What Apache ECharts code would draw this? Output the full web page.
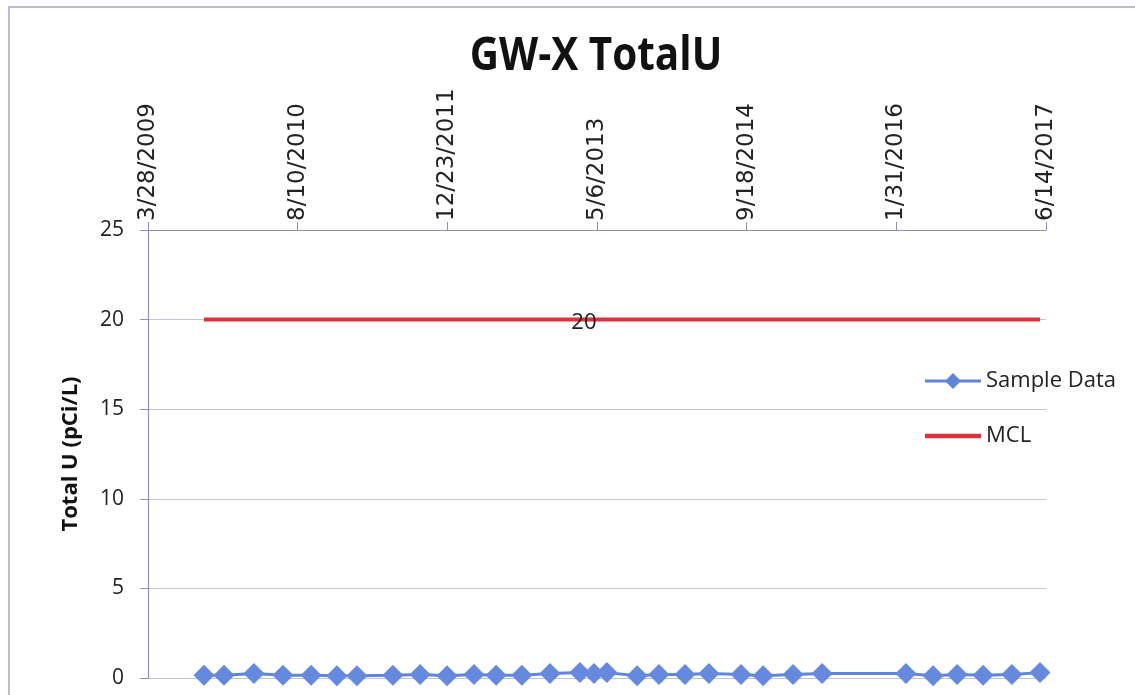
<!DOCTYPE html>
<html>
<head>
<meta charset="utf-8">
<title>GW-X TotalU</title>
<script src="https://cdn.jsdelivr.net/npm/echarts@6/dist/echarts.min.js"></script>
<style>
  html, body { margin: 0; padding: 0; background: #ffffff; }
  #chart { width: 1135px; height: 695px; }
</style>
</head>
<body>
<div id="chart"></div>
<script>
// Sampling dates (M/D/YYYY) and measured total uranium, pCi/L
const sampleDates = [
  '10/1/2009', '12/7/2009', '3/17/2010', '6/22/2010', '9/24/2010', '12/19/2010',
  '2/24/2011', '6/24/2011', '9/23/2011', '12/22/2011', '3/21/2012', '6/3/2012',
  '8/28/2012', '11/30/2012', '3/10/2013', '4/26/2013', '6/8/2013', '9/17/2013',
  '11/29/2013', '2/24/2014', '5/15/2014', '8/30/2014', '11/12/2014', '2/20/2015',
  '5/28/2015', '3/3/2016', '6/2/2016', '8/21/2016', '11/16/2016', '2/20/2017',
  '5/25/2017'
];
const sampleValues = [
  0.15, 0.15, 0.25, 0.15, 0.15, 0.12,
  0.12, 0.15, 0.2, 0.12, 0.2, 0.15,
  0.15, 0.25, 0.3, 0.25, 0.3, 0.12,
  0.2, 0.2, 0.25, 0.2, 0.12, 0.2,
  0.25, 0.25, 0.12, 0.2, 0.15, 0.2,
  0.3
];
// Maximum contaminant level at each sampling date
const mclValues = [
  20, 20, 20, 20, 20, 20, 20, 20, 20, 20, 20, 20, 20, 20, 20, 20,
  20, 20, 20, 20, 20, 20, 20, 20, 20, 20, 20, 20, 20, 20, 20
];
const mclLabelIndex = 14;
// Date axis labels
const xTickLabels = ['3/28/2009', '8/10/2010', '12/23/2011', '5/6/2013', '9/18/2014', '1/31/2016', '6/14/2017'];
const yTicks = { min: 0, max: 25, interval: 5 };

const blue = '#5f85db';
const red = '#d8333f';

function parseDate(s) {
  const [m, d, y] = s.split('/').map(Number);
  return Date.UTC(y, m - 1, d);
}
function formatDate(t) {
  const dt = new Date(t);
  return (dt.getUTCMonth() + 1) + '/' + dt.getUTCDate() + '/' + dt.getUTCFullYear();
}

const xTickValues = xTickLabels.map(parseDate);
const sampleSeries = sampleDates.map((d, i) => [parseDate(d), sampleValues[i]]);
const mclSeries = sampleDates.map((d, i) => [parseDate(d), mclValues[i]]);

const chart = echarts.init(document.getElementById('chart'), null, { renderer: 'canvas' });
chart.setOption({
  animation: false,
  backgroundColor: '#ffffff',
  graphic: [
    {
      type: 'rect', silent: true, z: -1,
      shape: { x: 9, y: 7, width: 1140, height: 700 },
      style: { fill: 'none', stroke: '#a9a9c4', lineWidth: 1.5 }
    },
    {
      type: 'text', silent: true,
      x: 596, y: 57, scaleX: 0.88,
      style: {
        text: 'GW-X TotalU',
        font: 'bold 46px "Open Sans", sans-serif',
        fill: '#111', align: 'center', verticalAlign: 'middle'
      }
    }
  ],
  legend: {
    orient: 'vertical',
    left: 925, top: 370, padding: 0,
    itemWidth: 56, itemHeight: 18, itemGap: 33,
    textStyle: { fontFamily: 'Open Sans, sans-serif', fontSize: 22, color: '#222' },
    data: [
      {
        name: 'Sample Data',
        icon: 'path://M0,6.5 L56,6.5 L56,9.5 L0,9.5 Z M28,0 L36,8 L28,16 L20,8 Z',
        itemStyle: { color: blue, opacity: 1 }
      },
      {
        name: 'MCL',
        icon: 'path://M0,0 L56,0 L56,4.5 L0,4.5 Z',
        itemStyle: { color: red, opacity: 1 }
      }
    ]
  },
  grid: { left: 148, top: 230, right: 89, bottom: 17, containLabel: false },
  xAxis: {
    type: 'value',
    position: 'top',
    min: xTickValues[0],
    max: xTickValues[xTickValues.length - 1],
    axisLine: { show: true, onZero: false, lineStyle: { color: '#9090ac', width: 1.2 } },
    axisTick: { show: true, inside: false, length: 8, customValues: xTickValues, lineStyle: { color: '#9090ac' } },
    axisLabel: {
      show: true, rotate: -90, margin: 9,
      customValues: xTickValues,
      formatter: v => formatDate(v),
      fontFamily: 'DejaVu Sans, sans-serif', fontSize: 23, color: '#222'
    },
    splitLine: { show: false }
  },
  yAxis: {
    type: 'value',
    min: yTicks.min, max: yTicks.max, interval: yTicks.interval,
    name: 'Total U (pCi/L)',
    nameLocation: 'middle', nameGap: 66, nameRotate: 90,
    nameTextStyle: { fontFamily: 'Open Sans, sans-serif', fontWeight: 'bold', fontSize: 22, color: '#111' },
    axisLine: { show: true, lineStyle: { color: '#9090ac', width: 1.2 } },
    axisTick: { show: true, inside: false, length: 8, lineStyle: { color: '#9090ac' } },
    axisLabel: { margin: 24, fontFamily: 'Open Sans, sans-serif', fontSize: 21, color: '#222' },
    splitLine: { show: true, lineStyle: { color: '#c2c2d2', width: 1 } }
  },
  series: [
    {
      name: 'Sample Data',
      type: 'line',
      data: sampleSeries,
      symbol: 'diamond',
      symbolSize: 21,
      itemStyle: { color: '#6489de' },
      lineStyle: { color: blue, width: 3 },
      z: 3
    },
    {
      name: 'MCL',
      type: 'line',
      data: mclSeries,
      symbol: 'none',
      itemStyle: { color: red },
      lineStyle: { color: red, width: 4 },
      markPoint: {
        symbol: 'circle',
        symbolSize: 1,
        itemStyle: { color: 'rgba(0,0,0,0)' },
        label: {
          show: true, position: 'inside', offset: [4, 3],
          formatter: p => String(p.value),
          fontFamily: 'Open Sans, sans-serif', fontSize: 22, color: '#222'
        },
        data: [{ coord: mclSeries[mclLabelIndex], value: mclValues[mclLabelIndex] }]
      },
      z: 2
    }
  ]
});
</script>
</body>
</html>
